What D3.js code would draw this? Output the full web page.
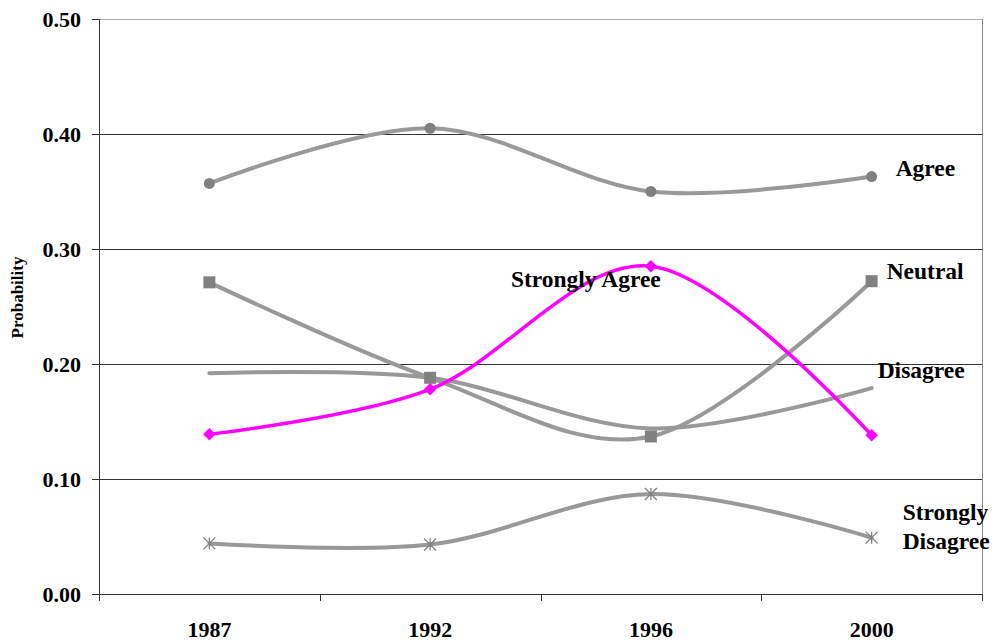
<!DOCTYPE html>
<html>
<head>
<meta charset="utf-8">
<script src="https://cdn.jsdelivr.net/npm/d3@7"></script>
<style>
  html, body { margin: 0; padding: 0; background: #fff; }
  svg { display: block; }
  text { font-family: "Liberation Serif", "Times New Roman", serif; font-weight: bold; fill: #000; }
</style>
</head>
<body>
<svg id="chart" width="995" height="643"></svg>
<script>
// Survey years
const years = ["1987", "1992", "1996", "2000"];

// Predicted probability of each response, per year
const agree            = [0.357, 0.405, 0.350, 0.363];
const neutral          = [0.271, 0.188, 0.137, 0.272];
const disagree         = [0.192, 0.188, 0.144, 0.179];
const stronglyAgree    = [0.139, 0.178, 0.285, 0.138];
const stronglyDisagree = [0.044, 0.043, 0.087, 0.049];

const yTicks = [0, 0.1, 0.2, 0.3, 0.4, 0.5];

const series = [
  { name: "Agree",             values: agree,            color: "#999999", marker: "circle"   },
  { name: "Neutral",           values: neutral,          color: "#999999", marker: "square"   },
  { name: "Disagree",          values: disagree,         color: "#999999", marker: "none"     },
  { name: "Strongly Agree",    values: stronglyAgree,    color: "#FF00FF", marker: "diamond"  },
  { name: "Strongly Disagree", values: stronglyDisagree, color: "#999999", marker: "asterisk" }
];

const svg = d3.select("#chart");
const margin = { left: 99, top: 19, right: 13, bottom: 49 };
const W = 995 - margin.left - margin.right;
const H = 643 - margin.top - margin.bottom;

const g = svg.append("g").attr("transform", `translate(${margin.left},${margin.top})`);

const x = d3.scaleBand().domain(years).range([0, W]);
const y = d3.scaleLinear().domain([0, 0.5]).range([H, 0]);
const cx = d => x(d) + x.bandwidth() / 2;

// Horizontal gridlines
g.append("g").selectAll("line")
  .data(yTicks.filter(t => t > 0 && t < 0.5))
  .join("line")
  .attr("x1", 0).attr("x2", W)
  .attr("y1", d => Math.round(y(d)) + 0.5).attr("y2", d => Math.round(y(d)) + 0.5)
  .attr("stroke", "#333").attr("stroke-width", 1);

// Plot area frame (top and right)
g.append("line").attr("x1", 0).attr("x2", W).attr("y1", 0.5).attr("y2", 0.5)
  .attr("stroke", "#aaa");
g.append("line").attr("x1", W + 0.5).attr("x2", W + 0.5).attr("y1", 0).attr("y2", H)
  .attr("stroke", "#888");

// Y axis
const yAxis = g.append("g")
  .call(d3.axisLeft(y).tickValues(yTicks).tickFormat(d3.format(".2f")).tickSize(7).tickPadding(11));
yAxis.select(".domain").attr("stroke", "#333");
yAxis.selectAll(".tick line").attr("stroke", "#333");
yAxis.selectAll("text").style("font-size", "22px").attr("dy", "0.34em");

// X axis: ticks at band boundaries, labels at band centres
const xAxisG = g.append("g").attr("transform", `translate(0,${H})`);
xAxisG.append("line").attr("x1", 0).attr("x2", W).attr("y1", 0.5).attr("y2", 0.5).attr("stroke", "#333");
const bounds = years.map(d => x(d)).concat([W]);
xAxisG.selectAll("line.tk").data(bounds).join("line").attr("class", "tk")
  .attr("x1", d => Math.round(d) + 0.5).attr("x2", d => Math.round(d) + 0.5)
  .attr("y1", 0).attr("y2", 7).attr("stroke", "#333");
xAxisG.selectAll("text").data(years).join("text")
  .attr("x", d => cx(d)).attr("y", 43)
  .attr("text-anchor", "middle").style("font-size", "22px")
  .text(d => d);

// Y axis title
svg.append("text")
  .attr("transform", `translate(23,${margin.top + H / 2 - 9}) rotate(-90)`)
  .attr("text-anchor", "middle").style("font-size", "17px")
  .text("Probability");

// Smoothed series lines
const line = d3.line()
  .x((d, i) => cx(years[i]))
  .y(d => y(d))
  .curve(d3.curveCardinal.tension(0));

const order = [0, 1, 2, 4, 3];
order.forEach(k => {
  const s = series[k];
  g.append("path")
    .datum(s.values)
    .attr("fill", "none")
    .attr("stroke", s.color)
    .attr("stroke-width", s.color === "#FF00FF" ? 3.5 : 4)
    .attr("stroke-linecap", "round")
    .attr("d", line);
});

// Markers
order.forEach(k => {
  const s = series[k];
  const mg = g.append("g");
  s.values.forEach((v, i) => {
    const px = cx(years[i]), py = y(v);
    if (s.marker === "circle") {
      mg.append("circle").attr("cx", px).attr("cy", py).attr("r", 5.5).attr("fill", "#808080");
    } else if (s.marker === "square") {
      mg.append("rect").attr("x", px - 6).attr("y", py - 6).attr("width", 12).attr("height", 12).attr("fill", "#808080");
    } else if (s.marker === "diamond") {
      mg.append("path").attr("d", d3.symbol(d3.symbolDiamond2, 100)())
        .attr("transform", `translate(${px},${py})`).attr("fill", "#FF00FF");
    } else if (s.marker === "asterisk") {
      const r = 6;
      mg.append("path")
        .attr("d", `M${px - r},${py - r}L${px + r},${py + r}M${px - r},${py + r}L${px + r},${py - r}M${px},${py - r}L${px},${py + r}`)
        .attr("stroke", "#808080").attr("stroke-width", 1.3).attr("fill", "none");
    }
  });
});

// Series labels
const last = years[years.length - 1];
const lab = (t, px, py) => g.append("text").attr("x", px).attr("y", py).style("font-size", "23.5px").text(t);
lab("Agree", cx(last) + 24, y(agree[3]) - 1);
lab("Neutral", cx(last) + 15, y(neutral[3]) - 2);
lab("Disagree", cx(last) + 6, y(disagree[3]) - 10);
lab("Strongly Agree", cx(years[2]) - 140, y(stronglyAgree[2]) + 21);
lab("Strongly", cx(last) + 31, y(stronglyDisagree[3]) - 18);
lab("Disagree", cx(last) + 31, y(stronglyDisagree[3]) + 11);
</script>
</body>
</html>
